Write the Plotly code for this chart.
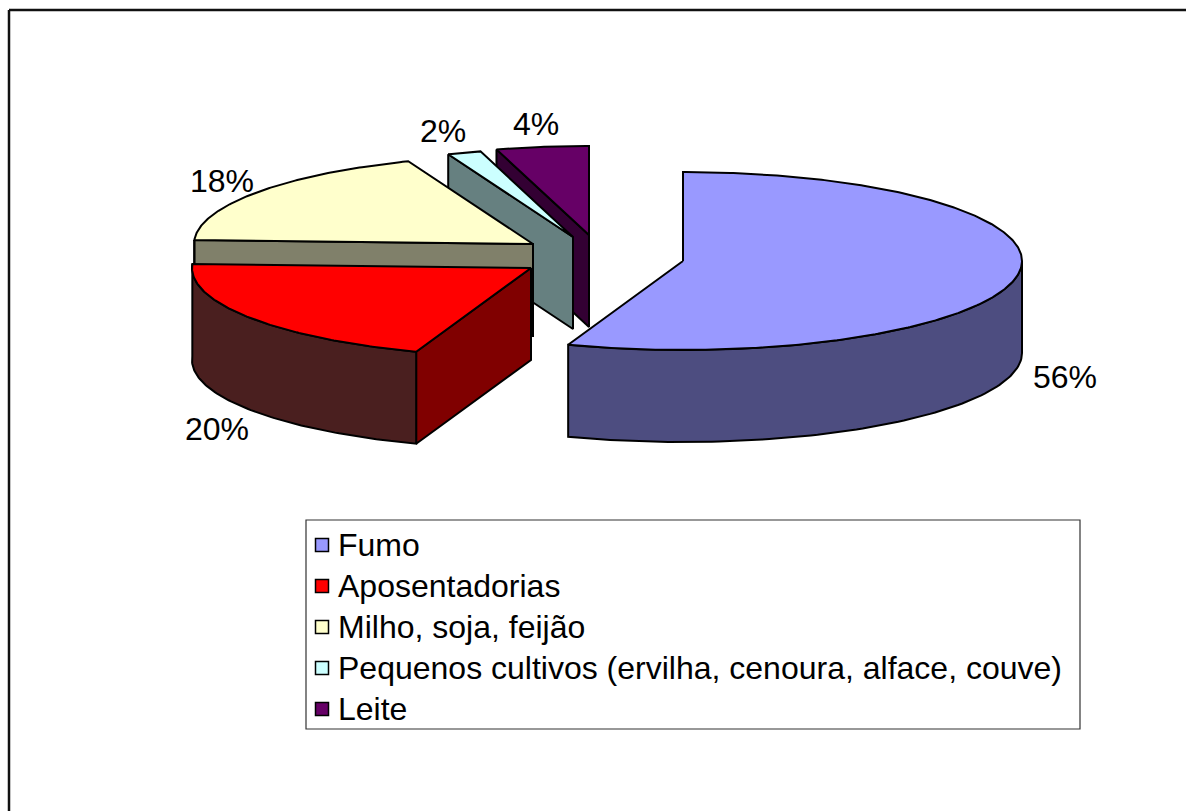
import numpy as np
import plotly.graph_objects as go

# ---- data ----
categories = ["Fumo", "Aposentadorias", "Milho, soja, feijão",
              "Pequenos cultivos (ervilha, cenoura, alface, couve)", "Leite"]
values = [55.5, 20.2, 18.3, 1.6, 4.4]
top_colors = ["#9999FF", "#FF0000", "#FFFFCC", "#CCFFFF", "#660066"]
rim_colors = ["#4D4D80", "#4A1F1F", "#80806A", "#668080", "#330033"]
cut_colors = ["#4D4D80", "#800000", "#80806A", "#668080", "#330033"]

# ---- pie layout (pixel-like axis units) ----
RX, RY, DEPTH = 339, 89, 92
centers_x = [683, 531, 533, 573, 589]
centers_y = [261, 268, 244, 237, 235]
label_x = [1065, 217, 222, 443, 536]
label_y = [377, 429, 181, 131, 124]
legend_rows = [545, 586, 627, 668, 709]
LEGEND_SWATCH_X, LEGEND_TEXT_X = 322, 336
LW = 2

W, H = 1186, 811
FONT = dict(family="Liberation Sans", size=32, color="black")
fig = go.Figure()


def poly(xs, ys, color):
    fig.add_trace(go.Scatter(
        x=xs, y=ys, mode="lines", fill="toself", fillcolor=color,
        line=dict(color="black", width=LW), hoverinfo="skip", showlegend=False))


def rim_point(cx, cy, ang):
    rad = np.radians(ang)
    return cx + RX * np.sin(rad), cy - RY * np.cos(rad)


ends = np.cumsum(values) / sum(values) * 360
starts = np.concatenate([[0], ends[:-1]])

# painter's order: back slices first
for i in [4, 3, 2, 1, 0]:
    a, b = starts[i], ends[i]
    cx, cy = centers_x[i], centers_y[i]
    # cut face along the start edge (visible when it faces the viewer)
    if 180 < a < 360:
        sx, sy = rim_point(cx, cy, a)
        poly([sx, cx, cx, sx, sx], [sy, cy, cy + DEPTH, sy + DEPTH, sy], cut_colors[i])
    # curved outer wall, front half only
    lo, hi = max(a, 90), min(b, 272.6)
    if hi > lo:
        t = np.linspace(lo, hi, 90)
        px, py = rim_point(cx, cy, t)
        poly(list(px) + list(px[::-1]) + [px[0]],
             list(py) + list((py + DEPTH)[::-1]) + [py[0]], rim_colors[i])
    # top face
    t = np.linspace(a, b, max(int(b - a) * 2, 6))
    px, py = rim_point(cx, cy, t)
    poly([cx] + list(px) + [cx], [cy] + list(py) + [cy], top_colors[i])

# legend entries
for name, col, row in zip(categories, top_colors, legend_rows):
    fig.add_trace(go.Scatter(
        x=[LEGEND_SWATCH_X], y=[row], mode="markers", name=name, showlegend=False,
        marker=dict(symbol="square", size=13, color=col, line=dict(color="black", width=1.5))))
    fig.add_annotation(x=LEGEND_TEXT_X, y=row, text=name, showarrow=False,
                       xanchor="left", yanchor="middle", font=FONT)

for v, lx, ly in zip(values, label_x, label_y):
    fig.add_annotation(x=lx, y=ly, text=f"{round(v)}%", showarrow=False,
                       xanchor="center", yanchor="middle", font=FONT)

fig.update_layout(
    width=W, height=H, autosize=False,
    margin=dict(l=0, r=0, t=0, b=0),
    paper_bgcolor="white", plot_bgcolor="white",
    font=dict(family="Liberation Sans", color="black"),
    showlegend=False,
    xaxis=dict(range=[0, W], visible=False, fixedrange=True),
    yaxis=dict(range=[H, 0], visible=False, fixedrange=True),
    shapes=[
        dict(type="rect", xref="x", yref="y", x0=306, x1=1080, y0=520, y1=729,
             line=dict(color="#333333", width=1.2), layer="below"),
        dict(type="line", xref="x", yref="y", x0=9, x1=W, y0=10, y1=10,
             line=dict(color="#111111", width=2.5)),
        dict(type="line", xref="x", yref="y", x0=9, x1=9, y0=10, y1=H,
             line=dict(color="#111111", width=2.5)),
    ],
)

fig.write_html("out.html", post_script="document.body.style.margin='0';",
               config=dict(displayModeBar=False))
